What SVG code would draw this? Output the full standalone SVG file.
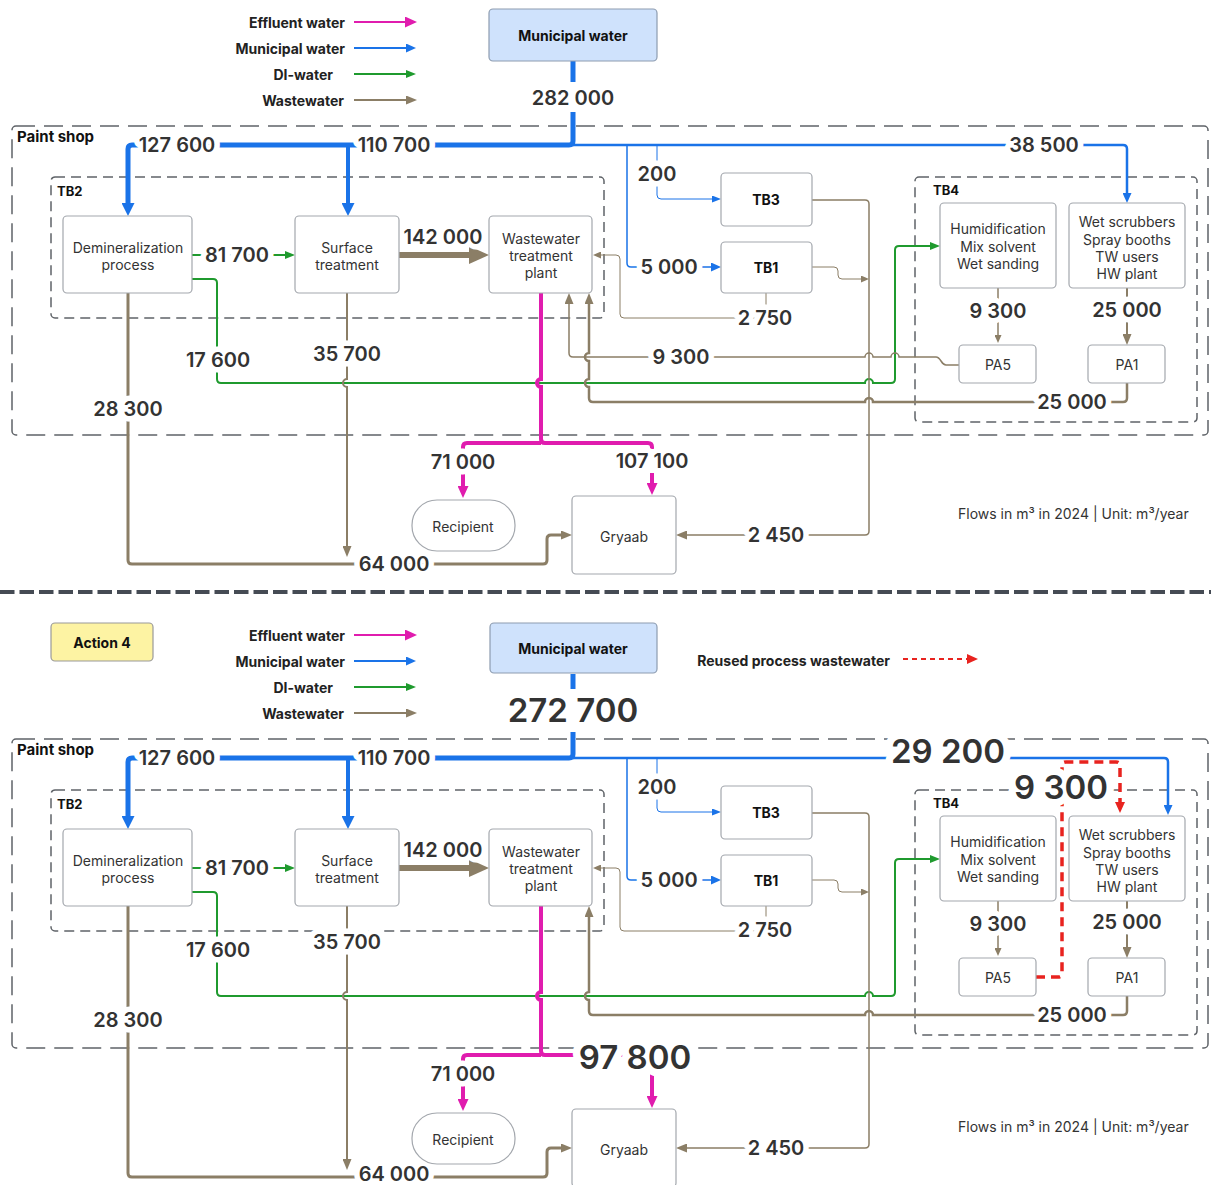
<svg xmlns="http://www.w3.org/2000/svg" width="1211" height="1185" viewBox="0 0 1211 1185">
<style>
.box{fill:#fff;stroke:#a3a7ad;stroke-width:1.2}
.t{font-family:Inter,"Liberation Sans",sans-serif;font-size:14px;fill:#333;text-anchor:middle;dominant-baseline:central}
.tb{font-weight:700;fill:#111}
.leg{font-family:Inter,"Liberation Sans",sans-serif;font-size:14px;font-weight:700;fill:#222;text-anchor:end;dominant-baseline:central}
.cl{font-family:Inter,"Liberation Sans",sans-serif;font-weight:700;fill:#111;dominant-baseline:central}
.n{font-family:Inter,"Liberation Sans",sans-serif;font-size:20px;font-weight:600;fill:#333;text-anchor:middle;dominant-baseline:central;stroke:#fff;stroke-width:11;stroke-linejoin:round;paint-order:stroke}
.nb{font-size:33px;stroke-width:15}
.cont{fill:none;stroke:#5f6368;stroke-width:1.5;stroke-dasharray:10 6}
.ps{stroke-dasharray:19 9}
.bl{stroke:#1a73e8;fill:none}
.gr{stroke:#1f9a2e;fill:none;stroke-width:2}
.ww{stroke:#8b7e66;fill:none}
.mg{stroke:#e01cae;fill:none;stroke-width:4}
.rd{stroke:#e8231f;fill:none;stroke-width:3.5;stroke-dasharray:9 6}
</style>
<defs>
<marker id="ab" viewBox="0 0 10 10" refX="0" refY="5" markerUnits="userSpaceOnUse" markerWidth="13" markerHeight="13" preserveAspectRatio="none" orient="auto"><path d="M0,0L10,5L0,10z" fill="#1a73e8"/></marker>
<marker id="abm" viewBox="0 0 10 10" refX="0" refY="5" markerUnits="userSpaceOnUse" markerWidth="10" markerHeight="9" preserveAspectRatio="none" orient="auto"><path d="M0,0L10,5L0,10z" fill="#1a73e8"/></marker>
<marker id="abs" viewBox="0 0 10 10" refX="0" refY="5" markerUnits="userSpaceOnUse" markerWidth="9" markerHeight="7" preserveAspectRatio="none" orient="auto"><path d="M0,0L10,5L0,10z" fill="#1a73e8"/></marker>
<marker id="ag" viewBox="0 0 10 10" refX="0" refY="5" markerUnits="userSpaceOnUse" markerWidth="10" markerHeight="8" preserveAspectRatio="none" orient="auto"><path d="M0,0L10,5L0,10z" fill="#1f9a2e"/></marker>
<marker id="awL" viewBox="0 0 10 10" refX="0" refY="5" markerUnits="userSpaceOnUse" markerWidth="20" markerHeight="18" preserveAspectRatio="none" orient="auto"><path d="M0,0L10,5L0,10z" fill="#8b7e66"/></marker>
<marker id="aw" viewBox="0 0 10 10" refX="0" refY="5" markerUnits="userSpaceOnUse" markerWidth="11" markerHeight="9" preserveAspectRatio="none" orient="auto"><path d="M0,0L10,5L0,10z" fill="#8b7e66"/></marker>
<marker id="aws" viewBox="0 0 10 10" refX="0" refY="5" markerUnits="userSpaceOnUse" markerWidth="8" markerHeight="7" preserveAspectRatio="none" orient="auto"><path d="M0,0L10,5L0,10z" fill="#8b7e66"/></marker>
<marker id="am" viewBox="0 0 10 10" refX="0" refY="5" markerUnits="userSpaceOnUse" markerWidth="12" markerHeight="11" preserveAspectRatio="none" orient="auto"><path d="M0,0L10,5L0,10z" fill="#e01cae"/></marker>
<marker id="ar" viewBox="0 0 10 10" refX="0" refY="5" markerUnits="userSpaceOnUse" markerWidth="11" markerHeight="10" preserveAspectRatio="none" orient="auto"><path d="M0,0L10,5L0,10z" fill="#e8231f"/></marker>
</defs>
<rect width="1211" height="1185" fill="#fff"/>

<!-- ===== TOP: legend ===== -->
<g id="legend-top">
<text class="leg" x="345" y="22">Effluent water</text>
<text class="leg" x="345" y="48">Municipal water</text>
<text class="leg" x="333" y="74">DI-water</text>
<text class="leg" x="344" y="100">Wastewater</text>
<path d="M354,22H405" stroke="#e01cae" stroke-width="2" marker-end="url(#am)"/>
<path d="M354,48H406" stroke="#1a73e8" stroke-width="2" marker-end="url(#abm)"/>
<path d="M354,74H406" stroke="#1f9a2e" stroke-width="2" marker-end="url(#ag)"/>
<path d="M354,100H406" stroke="#8b7e66" stroke-width="2" marker-end="url(#aw)"/>
</g>

<!-- containers top -->
<g id="paintshop-top"><rect class="cont ps" x="12" y="126" width="1196" height="309" rx="4"/><text class="cl" x="17" y="136" font-size="15">Paint shop</text></g>
<g id="tb2-top"><rect class="cont" x="51" y="177" width="553" height="141" rx="4"/><text class="cl" x="57" y="191" font-size="13">TB2</text></g>
<g id="tb4-top"><rect class="cont" x="915" y="177" width="282" height="245" rx="4"/><text class="cl" x="933" y="190" font-size="13">TB4</text></g>

<!-- connectors top -->
<g id="connectors-top">
<path class="bl" stroke-width="5" d="M573,61V82"/>
<path class="bl" stroke-width="5" d="M573,112V141Q573,145 569,145H132Q128,145 128,149V203" marker-end="url(#ab)"/>
<path class="bl" stroke-width="4" d="M348,145V203" marker-end="url(#ab)"/>
<path class="bl" stroke-width="2.5" d="M573,145H1123Q1127,145 1127,149V193" marker-end="url(#abm)"/>
<path class="bl" stroke-width="1.5" d="M627,145V263Q627,267 631,267H711" marker-end="url(#abm)"/>
<path class="bl" stroke-width="1" d="M657,145V195Q657,199 661,199H712" marker-end="url(#abs)"/>
<path class="gr" d="M192,255H285" marker-end="url(#ag)"/>
<path class="gr" d="M192,279H213Q217,279 217,283V379Q217,383 221,383H865A4,4 0 0 1 873,383H891Q895,383 895,379V250Q895,246 899,246H930" marker-end="url(#ag)"/>
<path class="ww" stroke-width="6" d="M399,255H469" marker-end="url(#awL)"/>
<path class="ww" stroke-width="3" d="M128,293V560Q128,564 132,564H543Q547,564 547,560V539Q547,535 551,535H561" marker-end="url(#aw)"/>
<path class="ww" stroke-width="2" d="M347,293V379A4,4 0 0 0 347,387V546" marker-end="url(#aw)"/>
<path class="ww" stroke-width="1.5" d="M812,200H865Q869,200 869,204V531Q869,535 865,535H687" marker-end="url(#aw)"/>
<path class="ww" stroke-width="1" d="M812,267H834Q838,267 838,271V275Q838,279 842,279H861" marker-end="url(#aws)"/>
<path class="ww" stroke-width="1" d="M766,293V314Q766,318 762,318H624Q620,318 620,314V259Q620,255 616,255H601" marker-end="url(#aws)"/>
<path class="ww" stroke-width="1.5" d="M959,365H946C941,365 941,357 936,357H899A4,4 0 0 0 891,357H873A4,4 0 0 0 865,357H573Q569,357 569,353V304" marker-end="url(#aw)"/>
<path class="ww" stroke-width="2.5" d="M1127,383V398Q1127,402 1123,402H873A4,4 0 0 0 865,402H593Q589,402 589,398V387A4,4 0 0 1 589,379V361A4,4 0 0 1 589,353V304" marker-end="url(#aw)"/>
<path class="ww" stroke-width="1.5" d="M998,288V335" marker-end="url(#aws)"/>
<path class="ww" stroke-width="2" d="M1127,288V334" marker-end="url(#aw)"/>
<path class="mg" d="M541,293V379A4,4 0 0 0 541,387V439Q541,443 545,443H648Q652,443 652,447V449"/>
<path class="mg" d="M652,473V483" marker-end="url(#am)"/>
<path class="mg" d="M541,443H467Q463,443 463,447V486" marker-end="url(#am)"/>
<text class="n" x="573" y="98">282 000</text>
<text class="n" x="177" y="145">127 600</text>
<text class="n" x="394" y="145">110 700</text>
<text class="n" x="1044" y="145">38 500</text>
<text class="n" x="669" y="267">5 000</text>
<text class="n" x="657" y="174">200</text>
<text class="n" x="237" y="255">81 700</text>
<text class="n" x="218" y="360">17 600</text>
<text class="n" x="443" y="237">142 000</text>
<text class="n" x="128" y="409">28 300</text>
<text class="n" x="394" y="564">64 000</text>
<text class="n" x="347" y="354">35 700</text>
<text class="n" x="776" y="535">2 450</text>
<text class="n" x="765" y="318">2 750</text>
<text class="n" x="681" y="357">9 300</text>
<text class="n" x="1072" y="402">25 000</text>
<text class="n" x="998" y="311">9 300</text>
<text class="n" x="1127" y="310">25 000</text>
<text class="n" x="463" y="462">71 000</text>
<text class="n" x="652" y="461">107 100</text>
</g>

<!-- nodes top -->
<g id="muni-top"><rect x="489" y="9" width="168" height="52" rx="4" fill="#cfe2fc" stroke="#8d9cb0" stroke-width="1.2"/><text class="t tb" x="573" y="35">Municipal water</text></g>
<g id="demin-top"><rect class="box" x="63" y="216" width="129" height="77" rx="4"/><text class="t" x="128" y="247">Demineralization</text><text class="t" x="128" y="264">process</text></g>
<g id="surf-top"><rect class="box" x="295" y="216" width="104" height="77" rx="4"/><text class="t" x="347" y="247">Surface</text><text class="t" x="347" y="264">treatment</text></g>
<g id="wwtp-top"><rect class="box" x="489" y="216" width="103" height="77" rx="4"/><text class="t" x="541" y="238">Wastewater</text><text class="t" x="541" y="255">treatment</text><text class="t" x="541" y="272">plant</text></g>
<g id="tb3-top"><rect class="box" x="721" y="173" width="91" height="53" rx="4"/><text class="t tb" x="766" y="199">TB3</text></g>
<g id="tb1-top"><rect class="box" x="721" y="242" width="91" height="51" rx="4"/><text class="t tb" x="766" y="267">TB1</text></g>
<g id="hum-top"><rect class="box" x="940" y="203" width="116" height="85" rx="4"/><text class="t" x="998" y="228">Humidification</text><text class="t" x="998" y="246">Mix solvent</text><text class="t" x="998" y="263">Wet sanding</text></g>
<g id="ws-top"><rect class="box" x="1069" y="203" width="116" height="85" rx="4"/><text class="t" x="1127" y="221">Wet scrubbers</text><text class="t" x="1127" y="239">Spray booths</text><text class="t" x="1127" y="256">TW users</text><text class="t" x="1127" y="273">HW plant</text></g>
<g id="pa5-top"><rect class="box" x="959" y="345" width="77" height="38" rx="4"/><text class="t" x="998" y="364">PA5</text></g>
<g id="pa1-top"><rect class="box" x="1088" y="345" width="77" height="38" rx="4"/><text class="t" x="1127" y="364">PA1</text></g>
<g id="rec-top"><rect class="box" x="412" y="500" width="103" height="51" rx="25"/><text class="t" x="463" y="526">Recipient</text></g>
<g id="gry-top"><rect class="box" x="572" y="496" width="104" height="78" rx="4"/><text class="t" x="624" y="536">Gryaab</text></g>
<text class="t" x="958" y="513" style="text-anchor:start">Flows in m³ in 2024 | Unit: m³/year</text>

<!-- divider -->
<path d="M0,592H1211" stroke="#454b54" stroke-width="4" stroke-dasharray="14.5 5"/>

<!-- ===== BOTTOM ===== -->
<g id="action4"><rect x="51" y="623" width="102" height="38" rx="4" fill="#fdf3a3" stroke="#9a9a9a" stroke-width="1.2"/><text class="t tb" x="102" y="642">Action 4</text></g>
<g id="legend-bottom">
<text class="leg" x="345" y="635">Effluent water</text>
<text class="leg" x="345" y="661">Municipal water</text>
<text class="leg" x="333" y="687">DI-water</text>
<text class="leg" x="344" y="713">Wastewater</text>
<path d="M354,635H405" stroke="#e01cae" stroke-width="2" marker-end="url(#am)"/>
<path d="M354,661H406" stroke="#1a73e8" stroke-width="2" marker-end="url(#abm)"/>
<path d="M354,687H406" stroke="#1f9a2e" stroke-width="2" marker-end="url(#ag)"/>
<path d="M354,713H406" stroke="#8b7e66" stroke-width="2" marker-end="url(#aw)"/>
<text class="leg" x="890" y="660">Reused process wastewater</text>
<path d="M903,659H967" stroke="#e8231f" stroke-width="2" stroke-dasharray="5 4" marker-end="url(#ar)"/>
</g>

<g id="paintshop-bottom"><rect class="cont ps" x="12" y="739" width="1196" height="309" rx="4"/><text class="cl" x="17" y="749" font-size="15">Paint shop</text></g>
<g id="tb2-bottom"><rect class="cont" x="51" y="790" width="553" height="141" rx="4"/><text class="cl" x="57" y="804" font-size="13">TB2</text></g>
<g id="tb4-bottom"><rect class="cont" x="915" y="790" width="282" height="245" rx="4"/><text class="cl" x="933" y="803" font-size="13">TB4</text></g>

<g id="connectors-bottom">
<path class="bl" stroke-width="5" d="M573,674V689"/>
<path class="bl" stroke-width="5" d="M573,732V754Q573,758 569,758H132Q128,758 128,762V816" marker-end="url(#ab)"/>
<path class="bl" stroke-width="4" d="M348,758V816" marker-end="url(#ab)"/>
<path class="bl" stroke-width="2.5" d="M573,758H1164Q1168,758 1168,762V805" marker-end="url(#abm)"/>
<path class="bl" stroke-width="1.5" d="M627,758V876Q627,880 631,880H711" marker-end="url(#abm)"/>
<path class="bl" stroke-width="1" d="M657,758V808Q657,812 661,812H712" marker-end="url(#abs)"/>
<path class="gr" d="M192,868H285" marker-end="url(#ag)"/>
<path class="gr" d="M192,892H213Q217,892 217,896V992Q217,996 221,996H865A4,4 0 0 1 873,996H891Q895,996 895,992V863Q895,859 899,859H930" marker-end="url(#ag)"/>
<path class="ww" stroke-width="6" d="M399,868H469" marker-end="url(#awL)"/>
<path class="ww" stroke-width="3" d="M128,906V1173Q128,1177 132,1177H543Q547,1177 547,1173V1152Q547,1148 551,1148H561" marker-end="url(#aw)"/>
<path class="ww" stroke-width="2" d="M347,906V992A4,4 0 0 0 347,1000V1159" marker-end="url(#aw)"/>
<path class="ww" stroke-width="1.5" d="M812,813H865Q869,813 869,817V1144Q869,1148 865,1148H687" marker-end="url(#aw)"/>
<path class="ww" stroke-width="1" d="M812,880H834Q838,880 838,884V888Q838,892 842,892H861" marker-end="url(#aws)"/>
<path class="ww" stroke-width="1" d="M766,906V927Q766,931 762,931H624Q620,931 620,927V872Q620,868 616,868H601" marker-end="url(#aws)"/>
<path class="ww" stroke-width="2.5" d="M1127,996V1011Q1127,1015 1123,1015H873A4,4 0 0 0 865,1015H593Q589,1015 589,1011V1000A4,4 0 0 1 589,992V917" marker-end="url(#aw)"/>
<path class="ww" stroke-width="1.5" d="M998,901V948" marker-end="url(#aws)"/>
<path class="ww" stroke-width="2" d="M1127,901V947" marker-end="url(#aw)"/>
<path class="mg" d="M541,906V992A4,4 0 0 0 541,1000V1051Q541,1055 545,1055H648Q652,1055 652,1059V1096" marker-end="url(#am)"/>
<path class="mg" d="M541,1055H467Q463,1055 463,1059V1099" marker-end="url(#am)"/>
<path class="rd" d="M1036,977H1058Q1062,977 1062,973V766Q1062,762 1066,762H1116Q1120,762 1120,766V802" marker-end="url(#ar)"/>
<text class="n nb" x="573" y="710">272 700</text>
<text class="n" x="177" y="758">127 600</text>
<text class="n" x="394" y="758">110 700</text>
<text class="n nb" x="948" y="751">29 200</text>
<text class="n nb" x="1061" y="787">9 300</text>
<text class="n" x="669" y="880">5 000</text>
<text class="n" x="657" y="787">200</text>
<text class="n" x="237" y="868">81 700</text>
<text class="n" x="218" y="950">17 600</text>
<text class="n" x="443" y="850">142 000</text>
<text class="n" x="128" y="1020">28 300</text>
<text class="n" x="394" y="1174">64 000</text>
<text class="n" x="347" y="942">35 700</text>
<text class="n" x="776" y="1148">2 450</text>
<text class="n" x="765" y="930">2 750</text>
<text class="n" x="1072" y="1015">25 000</text>
<text class="n" x="998" y="924">9 300</text>
<text class="n" x="1127" y="922">25 000</text>
<text class="n" x="463" y="1074">71 000</text>
<text class="n nb" x="635" y="1057">97 800</text>
</g>

<g id="muni-bottom"><rect x="490" y="623" width="167" height="50" rx="4" fill="#cfe2fc" stroke="#8d9cb0" stroke-width="1.2"/><text class="t tb" x="573" y="648">Municipal water</text></g>
<g id="demin-bottom"><rect class="box" x="63" y="829" width="129" height="77" rx="4"/><text class="t" x="128" y="860">Demineralization</text><text class="t" x="128" y="877">process</text></g>
<g id="surf-bottom"><rect class="box" x="295" y="829" width="104" height="77" rx="4"/><text class="t" x="347" y="860">Surface</text><text class="t" x="347" y="877">treatment</text></g>
<g id="wwtp-bottom"><rect class="box" x="489" y="829" width="103" height="77" rx="4"/><text class="t" x="541" y="851">Wastewater</text><text class="t" x="541" y="868">treatment</text><text class="t" x="541" y="885">plant</text></g>
<g id="tb3-bottom"><rect class="box" x="721" y="786" width="91" height="53" rx="4"/><text class="t tb" x="766" y="812">TB3</text></g>
<g id="tb1-bottom"><rect class="box" x="721" y="855" width="91" height="51" rx="4"/><text class="t tb" x="766" y="880">TB1</text></g>
<g id="hum-bottom"><rect class="box" x="940" y="816" width="116" height="85" rx="4"/><text class="t" x="998" y="841">Humidification</text><text class="t" x="998" y="859">Mix solvent</text><text class="t" x="998" y="876">Wet sanding</text></g>
<g id="ws-bottom"><rect class="box" x="1069" y="816" width="116" height="85" rx="4"/><text class="t" x="1127" y="834">Wet scrubbers</text><text class="t" x="1127" y="852">Spray booths</text><text class="t" x="1127" y="869">TW users</text><text class="t" x="1127" y="886">HW plant</text></g>
<g id="pa5-bottom"><rect class="box" x="959" y="958" width="77" height="38" rx="4"/><text class="t" x="998" y="977">PA5</text></g>
<g id="pa1-bottom"><rect class="box" x="1088" y="958" width="77" height="38" rx="4"/><text class="t" x="1127" y="977">PA1</text></g>
<g id="rec-bottom"><rect class="box" x="412" y="1113" width="103" height="51" rx="25"/><text class="t" x="463" y="1139">Recipient</text></g>
<g id="gry-bottom"><rect class="box" x="572" y="1109" width="104" height="78" rx="4"/><text class="t" x="624" y="1149">Gryaab</text></g>
<text class="t" x="958" y="1126" style="text-anchor:start">Flows in m³ in 2024 | Unit: m³/year</text>
</svg>
